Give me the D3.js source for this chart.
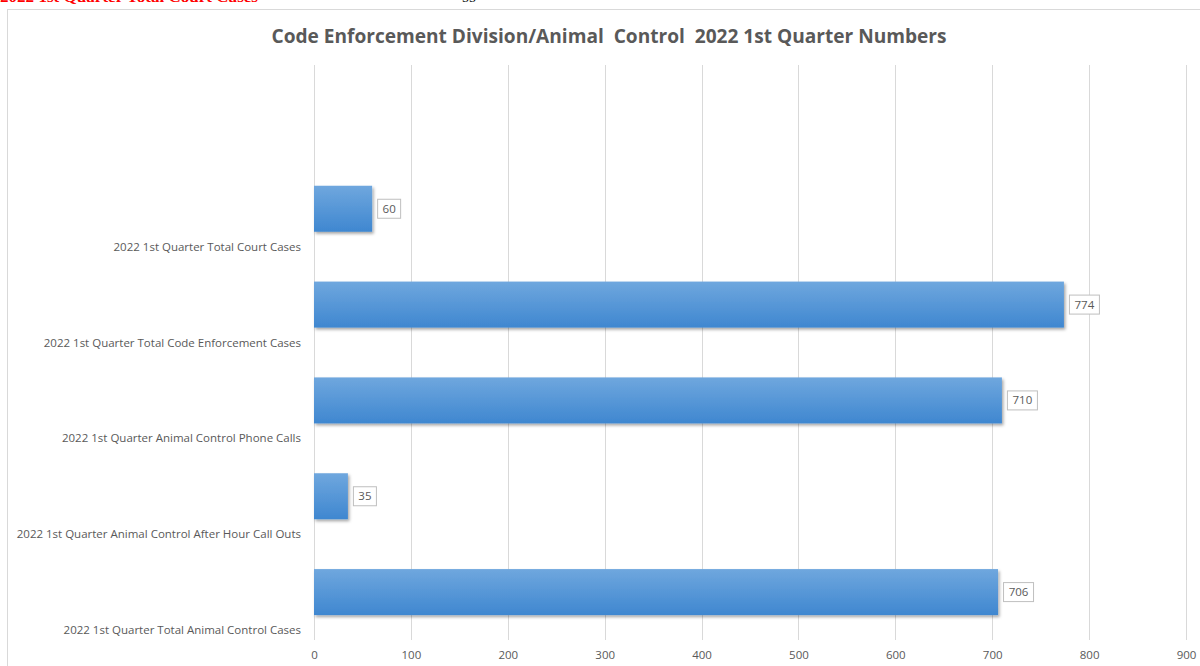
<!DOCTYPE html>
<html><head><meta charset="utf-8">
<script src="https://cdn.jsdelivr.net/npm/d3@7/dist/d3.min.js"></script>
<style>html,body{margin:0;padding:0;background:#fff;overflow:hidden}</style>
</head><body>
<svg id="c" width="1200" height="666"></svg>
<script>
const categories = ["",
  "2022 1st Quarter Total Court Cases",
  "2022 1st Quarter Total Code Enforcement Cases",
  "2022 1st Quarter Animal Control Phone Calls",
  "2022 1st Quarter Animal Control After Hour Call Outs",
  "2022 1st Quarter Total Animal Control Cases"];
const values = [null, 60, 774, 710, 35, 706];
const xTicks = [0,100,200,300,400,500,600,700,800,900];
const title = "Code Enforcement Division/Animal  Control  2022 1st Quarter Numbers";
const headerText = "2022 1st Quarter Total Court Cases";
const headerValue = "55";

const svg = d3.select("#c");
const font = "'Open Sans', 'Liberation Sans', sans-serif";

// cut-off header text above the chart (as in original page)
svg.append("text").attr("x",0).attr("y",2).attr("font-family","'Liberation Serif', serif")
  .attr("font-weight","bold").attr("font-size",14).attr("fill","#ff0000")
  .attr("textLength",258).attr("lengthAdjust","spacingAndGlyphs").text(headerText);
svg.append("text").attr("x",462).attr("y",2).attr("font-family","'Liberation Serif', serif")
  .attr("font-size",14).attr("fill","#000").text(headerValue);

// chart border
svg.append("rect").attr("x",7.5).attr("y",9.5).attr("width",1200).attr("height",700)
  .attr("fill","#fff").attr("stroke","#d9d9d9").attr("stroke-width",1);

const defs = svg.append("defs");
const g1 = defs.append("linearGradient").attr("id","bar").attr("x1",0).attr("y1",0).attr("x2",0).attr("y2",1);
g1.append("stop").attr("offset","0%").attr("stop-color","#6fa7de");
g1.append("stop").attr("offset","100%").attr("stop-color","#3f87d0");
const f = defs.append("filter").attr("id","sh").attr("x","-10%").attr("y","-20%").attr("width","130%").attr("height","160%");
f.append("feDropShadow").attr("dx",1.5).attr("dy",2).attr("stdDeviation",1.5).attr("flood-color","#000").attr("flood-opacity",0.35);

const x = d3.scaleLinear().domain([0,900]).range([314,1186]);
const y = d3.scaleBand().domain(d3.range(categories.length)).range([65,640]).paddingInner(0.52).paddingOuter(0.26);

// gridlines
svg.append("g").selectAll("line").data(xTicks).join("line")
  .attr("x1",d=>Math.round(x(d))+0.5).attr("x2",d=>Math.round(x(d))+0.5)
  .attr("y1",65).attr("y2",640).attr("stroke","#d9d9d9").attr("stroke-width",1);

// axis tick labels
const xa = d3.axisBottom(x).tickValues(xTicks).tickSize(0).tickPadding(0);
const ag = svg.append("g").attr("transform","translate(0,651)").call(xa);
ag.select(".domain").remove();
ag.selectAll("text").attr("font-family",font).attr("font-size",11.5).attr("fill","#595959").attr("dy","0.71em");

// title
svg.append("text").attr("x",609).attr("y",43).attr("text-anchor","middle")
  .style("white-space","pre")
  .attr("font-family",font).attr("font-weight","bold").attr("font-size",19.5)
  .attr("fill","#595959").attr("textLength",675).attr("lengthAdjust","spacingAndGlyphs").text(title);

const data = categories.map((c,i)=>({c, v: values[i], i})).filter(d=>d.v!=null);

// bars
svg.append("g").selectAll("rect").data(data).join("rect")
  .attr("x",x(0)).attr("y",d=>y(d.i)).attr("width",d=>x(d.v)-x(0)).attr("height",y.bandwidth())
  .attr("fill","url(#bar)").attr("filter","url(#sh)");

// category labels (rendered below bars, as in original)
svg.append("g").selectAll("text").data(data).join("text")
  .attr("x",301).attr("y",d=>y(d.i)+y.bandwidth()/2+39).attr("text-anchor","end")
  .attr("dominant-baseline","middle").attr("font-family",font).attr("font-size",11.5)
  .attr("fill","#595959").text(d=>d.c);

// data labels
const lg = svg.append("g").selectAll("g").data(data).join("g")
  .attr("transform",d=>`translate(${x(d.v)+5},${y(d.i)+y.bandwidth()/2})`);
lg.append("rect").attr("x",0.5).attr("y",-9.5).attr("width",d=>String(d.v).length*7+9).attr("height",19)
  .attr("fill","#fff").attr("stroke","#bfbfbf");
lg.append("text").attr("x",d=>(String(d.v).length*7+10)/2).attr("y",1).attr("text-anchor","middle")
  .attr("dominant-baseline","middle").attr("font-family",font).attr("font-size",11.5).attr("fill","#595959")
  .text(d=>d.v);
</script>
</body></html>
